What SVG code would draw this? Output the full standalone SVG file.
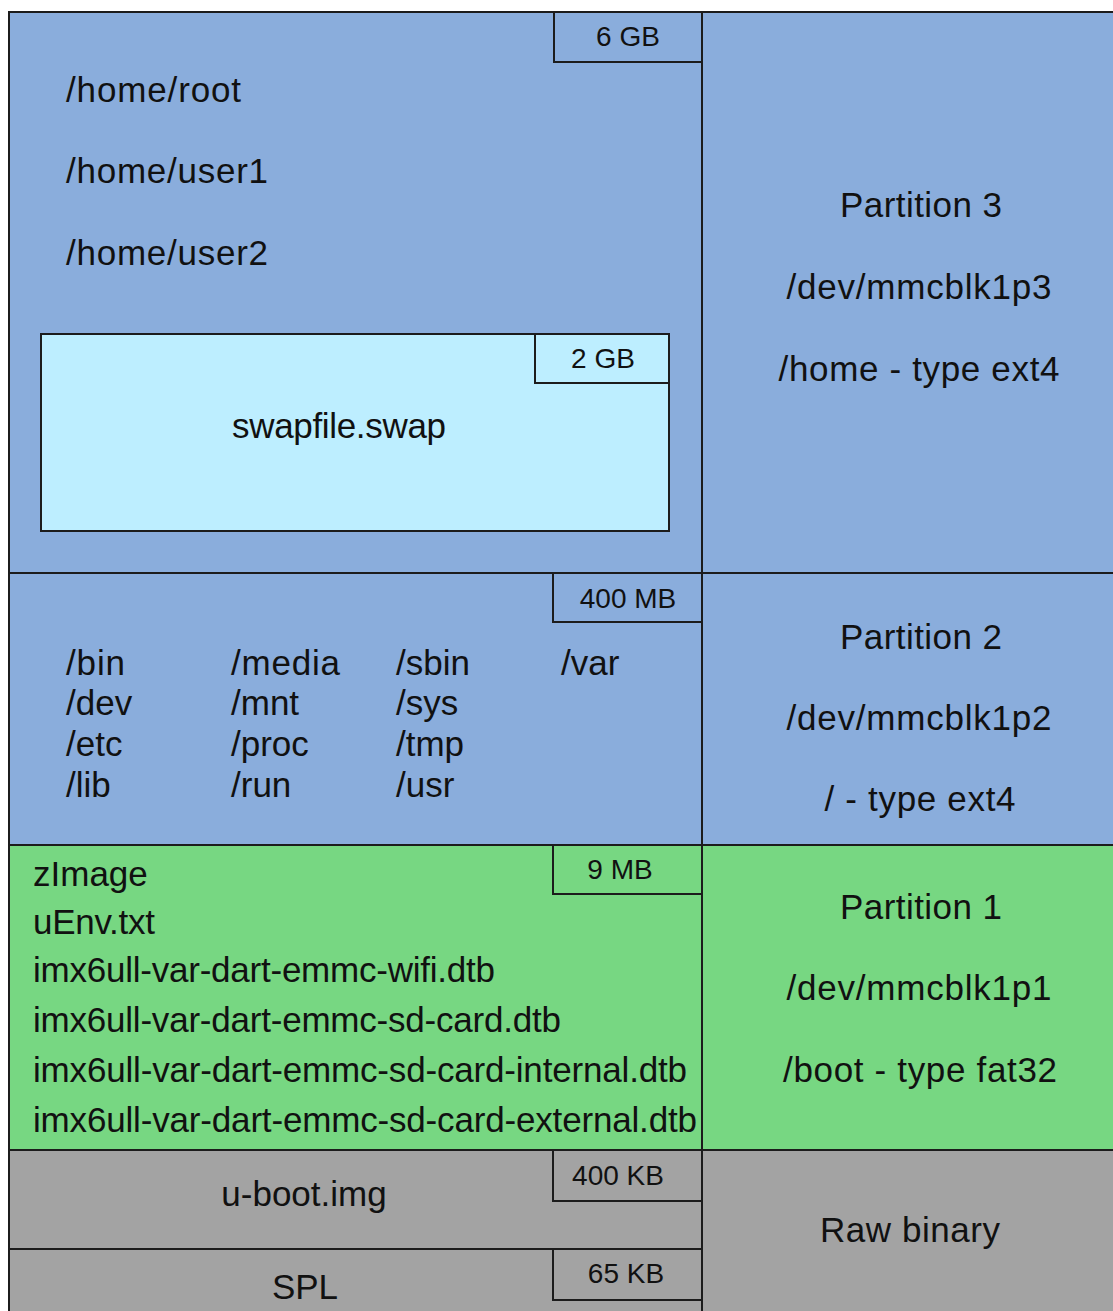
<svg xmlns="http://www.w3.org/2000/svg" width="1113" height="1311" viewBox="0 0 1113 1311">
<style>
.b{stroke:#1c1c1c;stroke-width:2}
.blue{fill:#8aaddc}
.green{fill:#77d782}
.gray{fill:#a3a3a3}
.lb{fill:#bdeeff}
text{font-family:"Liberation Sans",Arial,sans-serif;fill:#111}
.t{font-size:35px}
.s{font-size:28px}
.m{text-anchor:middle}
</style>
<rect x="0" y="0" width="1113" height="1311" fill="#ffffff"/>
<g id="partition3">
<rect class="blue b" x="9" y="12" width="693" height="561"/>
<rect class="blue b" x="702" y="12" width="420" height="561"/>
<rect class="blue b" x="554" y="12" width="148" height="50"/>
<text class="s m" x="628" y="46">6 GB</text>
<text class="t" x="66" y="102" textLength="175">/home/root</text>
<text class="t" x="66" y="183" textLength="202">/home/user1</text>
<text class="t" x="66" y="265" textLength="202">/home/user2</text>
<text class="t m" x="921" y="217" textLength="162">Partition 3</text>
<text class="t m" x="919" y="299" textLength="265">/dev/mmcblk1p3</text>
<text class="t m" x="919" y="381" textLength="281">/home - type ext4</text>
</g>
<g id="swapfile">
<rect class="lb b" x="41" y="334" width="628" height="197"/>
<rect class="lb b" x="535" y="334" width="134" height="49"/>
<text class="s m" x="603" y="368">2 GB</text>
<text class="t m" x="339" y="438" textLength="214">swapfile.swap</text>
</g>
<g id="partition2">
<rect class="blue b" x="9" y="573" width="693" height="272"/>
<rect class="blue b" x="702" y="573" width="420" height="272"/>
<rect class="blue b" x="553" y="573" width="149" height="49"/>
<text class="s m" x="628" y="608">400 MB</text>
<text class="t" x="66" y="675" textLength="59">/bin</text>
<text class="t" x="66" y="715">/dev</text>
<text class="t" x="66" y="756">/etc</text>
<text class="t" x="66" y="797">/lib</text>
<text class="t" x="231" y="675" textLength="109">/media</text>
<text class="t" x="231" y="715">/mnt</text>
<text class="t" x="231" y="756">/proc</text>
<text class="t" x="231" y="797">/run</text>
<text class="t" x="396" y="675">/sbin</text>
<text class="t" x="396" y="715">/sys</text>
<text class="t" x="396" y="756">/tmp</text>
<text class="t" x="396" y="797">/usr</text>
<text class="t" x="561" y="675">/var</text>
<text class="t m" x="921" y="649" textLength="162">Partition 2</text>
<text class="t m" x="919" y="730" textLength="265">/dev/mmcblk1p2</text>
<text class="t m" x="920" y="811" textLength="191">/ - type ext4</text>
</g>
<g id="partition1">
<rect class="green b" x="9" y="845" width="693" height="305"/>
<rect class="green b" x="702" y="845" width="420" height="305"/>
<rect class="green b" x="553" y="845" width="149" height="49"/>
<text class="s m" x="620" y="879">9 MB</text>
<text class="t" x="33" y="886">zImage</text>
<text class="t" x="33" y="934" textLength="122">uEnv.txt</text>
<text class="t" x="33" y="982" textLength="462">imx6ull-var-dart-emmc-wifi.dtb</text>
<text class="t" x="33" y="1032" textLength="528">imx6ull-var-dart-emmc-sd-card.dtb</text>
<text class="t" x="33" y="1082" textLength="654">imx6ull-var-dart-emmc-sd-card-internal.dtb</text>
<text class="t" x="33" y="1132" textLength="664">imx6ull-var-dart-emmc-sd-card-external.dtb</text>
<text class="t m" x="921" y="919" textLength="162">Partition 1</text>
<text class="t m" x="919" y="1000" textLength="265">/dev/mmcblk1p1</text>
<text class="t m" x="920" y="1082" textLength="274">/boot - type fat32</text>
</g>
<g id="raw">
<rect class="gray b" x="9" y="1150" width="693" height="99"/>
<rect class="gray b" x="9" y="1249" width="693" height="80"/>
<rect class="gray b" x="702" y="1150" width="420" height="180"/>
<rect class="gray b" x="553" y="1150" width="149" height="51"/>
<rect class="gray b" x="553" y="1249" width="149" height="51"/>
<text class="s m" x="618" y="1185">400 KB</text>
<text class="s m" x="626" y="1283">65 KB</text>
<text class="t m" x="304" y="1206">u-boot.img</text>
<text class="t m" x="305" y="1299">SPL</text>
<text class="t m" x="910" y="1242" textLength="180">Raw binary</text>
</g>
</svg>
